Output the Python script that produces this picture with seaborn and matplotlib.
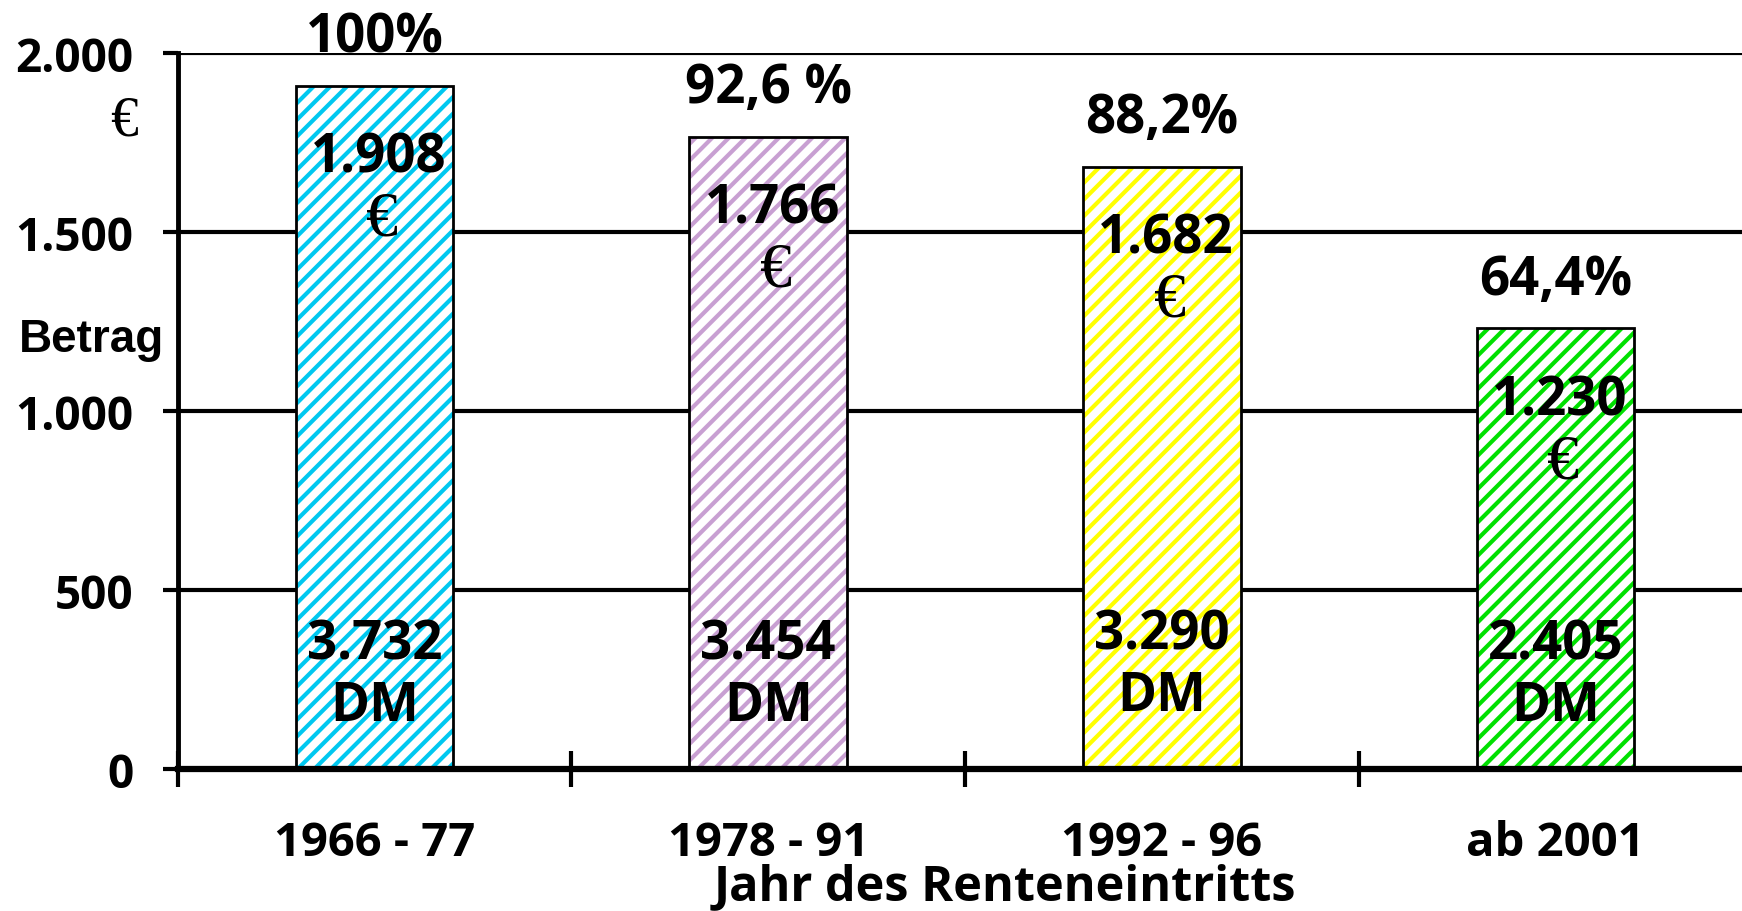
import matplotlib
matplotlib.use("Agg")
import matplotlib.pyplot as plt
import seaborn as sns

# data
periods = ["1966 - 77", "1978 - 91", "1992 - 96", "ab 2001"]
euro_values = [1908, 1766, 1682, 1230]
euro_labels = ["1.908", "1.766", "1.682", "1.230"]
dm_labels = ["3.732", "3.454", "3.290", "2.405"]
pct_labels = ["100%", "92,6 %", "88,2%", "64,4%"]
y_ticks = [0, 500, 1000, 1500, 2000]
y_tick_labels = ["0", "500", "1.000", "1.500", "2.000"]

colors = ["#00c8f0", "#c8a0d2", "#ffff00", "#00e000"]
dm_y = [348, 348, 376, 348]

sns.set_theme(style="ticks")
plt.rcParams["font.family"] = ["Open Sans", "DejaVu Sans"]
plt.rcParams["hatch.linewidth"] = 3.0
for key in ["text.color", "axes.labelcolor", "xtick.color", "ytick.color"]:
    plt.rcParams[key] = "black"

fig = plt.figure(figsize=(17.42, 9.12), dpi=100)
ax = fig.add_axes([0.102, 0.156, 0.904, 0.785])

# hatched fill
sns.barplot(x=periods, y=euro_values, hue=periods, palette=colors, width=0.4,
            legend=False, ax=ax, linewidth=0)
n = len(ax.patches)
for patch, c in zip(ax.patches, colors):
    patch.set_facecolor("white")
    patch.set_edgecolor(c)
    patch.set_hatch("//")
    patch.set_zorder(3)

# black outline on top
sns.barplot(x=periods, y=euro_values, width=0.4, fill=False, ax=ax)
for patch in ax.patches[n:]:
    patch.set_edgecolor("black")
    patch.set_linewidth(2)
    patch.set_zorder(4)

ax.set_ylim(0, 2000)
ax.set_xlim(-0.5, len(periods) - 0.5)
ax.set_yticks(y_ticks)
ax.set_yticklabels(y_tick_labels, fontsize=33, fontweight="bold")
ax.yaxis.grid(True, color="black", linewidth=3)
ax.set_axisbelow(True)

ax.set_xticks(range(len(periods)))
ax.set_xticklabels(periods, fontsize=34, fontweight="bold")
ax.set_xticks([i - 0.5 for i in range(len(periods))], minor=True)
ax.tick_params(axis="x", which="major", bottom=True, length=0, pad=36)
ax.tick_params(axis="x", which="minor", bottom=True, length=26, width=3,
               direction="inout", color="black")
ax.tick_params(axis="y", left=True, length=11, width=3, direction="out",
               color="black", pad=21)

for side in ["top", "right"]:
    ax.spines[side].set_visible(False)
ax.spines["left"].set_color("black")
ax.spines["left"].set_linewidth(3.5)
ax.spines["bottom"].set_color("black")
ax.spines["bottom"].set_linewidth(4.5)
ax.spines["bottom"].set_zorder(5)

ax.set_xlabel("Jahr des Renteneintritts", fontsize=35, fontweight="bold")
ax.xaxis.set_label_coords(0.525, -0.165)
ax.xaxis.label.set_va("center")
ax.set_ylabel("Betrag", fontsize=33, fontweight="bold", rotation=0,
              family="Liberation Sans")
ax.yaxis.set_label_coords(-0.055, 0.6)
ax.yaxis.label.set_va("center")
ax.yaxis.label.set_ha("center")

# euro sign under the 2.000 tick
ax.text(-0.034, 1810, "€", transform=ax.get_yaxis_transform(), ha="center", va="center",
        fontsize=40, family="Liberation Serif")

for i, v in enumerate(euro_values):
    ax.text(i, v + 135, pct_labels[i], ha="center", va="center", fontsize=38,
            fontweight="bold", zorder=6)
    ax.text(i + 0.01, v - 200, euro_labels[i], ha="center", va="center", fontsize=38,
            fontweight="bold", zorder=6)
    ax.text(i + 0.02, v - 375, "€", ha="center", va="center", fontsize=46,
            family="Liberation Serif", zorder=6)
    ax.text(i, dm_y[i], dm_labels[i], ha="center", va="center", fontsize=38,
            fontweight="bold", zorder=6)
    ax.text(i, dm_y[i] - 172, "DM", ha="center", va="center", fontsize=38,
            fontweight="bold", zorder=6)

fig.savefig("out.png", dpi=100)
